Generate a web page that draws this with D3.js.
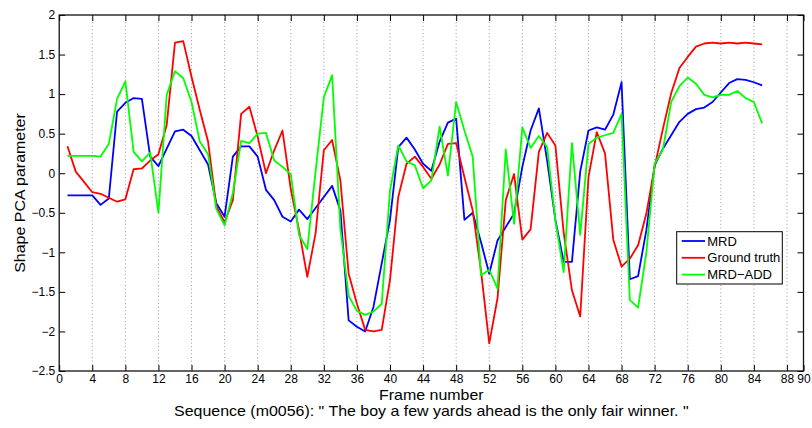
<!DOCTYPE html>
<html>
<head>
<meta charset="utf-8">
<script src="https://cdn.jsdelivr.net/npm/d3@7"></script>
<style>
  body { margin: 0; background: #fff; }
  svg text { font-family: "Liberation Sans", Arial, Helvetica, sans-serif; fill: #000; }
</style>
</head>
<body>
<svg id="chart" width="812" height="428"></svg>
<script>
// frame numbers 1..85
var frames = d3.range(1, 86);

var mrd = [-0.28, -0.28, -0.28, -0.28, -0.40, -0.32, 0.78, 0.89, 0.95, 0.94,
  0.21, 0.09, 0.31, 0.53, 0.55, 0.47, 0.29, 0.11, -0.38, -0.55,
  0.21, 0.34, 0.34, 0.21, -0.21, -0.34, -0.55, -0.61, -0.46, -0.58,
  -0.44, -0.30, -0.16, -0.47, -1.86, -1.94, -2.00, -1.69, -1.14, -0.59,
  0.33, 0.45, 0.30, 0.12, 0.03, 0.40, 0.64, 0.69, -0.59, -0.50,
  -0.87, -1.27, -0.85, -0.68, -0.51, 0.08, 0.54, 0.82, 0.16, -0.59,
  -1.12, -1.12, 0.02, 0.54, 0.58, 0.55, 0.74, 1.15, -1.34, -1.30,
  -0.72, 0.10, 0.31, 0.48, 0.65, 0.75, 0.81, 0.83, 0.90, 1.02,
  1.14, 1.19, 1.18, 1.15, 1.11];

var truth = [0.34, 0.02, -0.11, -0.24, -0.26, -0.31, -0.36, -0.33, 0.05, 0.06,
  0.16, 0.24, 0.61, 1.65, 1.67, 1.22, 0.80, 0.40, -0.42, -0.62,
  -0.34, 0.75, 0.84, 0.46, 0.00, 0.29, 0.54, -0.20, -0.72, -1.31,
  -0.76, 0.29, 0.42, -0.09, -1.27, -1.65, -1.98, -2.00, -1.98, -1.35,
  -0.30, 0.12, 0.21, 0.08, -0.07, 0.11, 0.37, 0.38, -0.05, -0.47,
  -1.23, -2.15, -1.58, -0.34, -0.01, -0.84, -0.71, 0.27, 0.51, 0.35,
  -0.75, -1.48, -1.81, -0.05, 0.52, 0.25, -0.84, -1.18, -1.08, -0.91,
  -0.51, 0.08, 0.56, 1.01, 1.33, 1.47, 1.60, 1.64, 1.65, 1.64,
  1.65, 1.64, 1.65, 1.64, 1.63];

var mrdAdd = [0.22, 0.22, 0.22, 0.22, 0.21, 0.37, 0.94, 1.16, 0.27, 0.15,
  0.26, -0.50, 0.99, 1.29, 1.20, 0.90, 0.40, 0.24, -0.45, -0.66,
  -0.25, 0.41, 0.38, 0.50, 0.51, 0.16, 0.08, -0.01, -0.78, -0.96,
  0.02, 0.96, 1.24, -0.70, -1.55, -1.74, -1.79, -1.75, -1.65, -0.22,
  0.35, 0.15, 0.10, -0.19, -0.09, 0.59, -0.03, 0.90, 0.54, 0.21,
  -1.29, -1.22, -1.46, 0.30, -0.64, 0.58, 0.32, 0.47, 0.33, -0.60,
  -1.25, 0.38, -0.78, 0.37, 0.45, 0.48, 0.51, 0.75, -1.60, -1.70,
  -1.00, 0.12, 0.30, 0.90, 1.10, 1.21, 1.13, 0.99, 0.96, 0.99,
  0.99, 1.04, 0.95, 0.90, 0.63];

var xTicks = [0, 4, 8, 12, 16, 20, 24, 28, 32, 36, 40, 44, 48, 52, 56, 60, 64, 68, 72, 76, 80, 84, 88, 90];
var yTicks = [-2.5, -2, -1.5, -1, -0.5, 0, 0.5, 1, 1.5, 2];

var series = [
  { name: "MRD", values: mrd, color: "#0000ff" },
  { name: "Ground truth", values: truth, color: "#ff0000" },
  { name: "MRD\u2212ADD", values: mrdAdd, color: "#00ff00" }
];

var svg = d3.select("#chart");
var plotL = 59.2, plotR = 803.5, plotT = 15, plotB = 371;

var x = d3.scaleLinear().domain([0, 90]).range([plotL, plotR]);
var y = d3.scaleLinear().domain([-2.5, 2]).range([plotB, plotT]);

// dotted vertical grid
svg.append("g").selectAll("line")
  .data(xTicks.filter(function(t) { return t > 0 && t < 90; }))
  .enter().append("line")
    .attr("x1", function(d) { return x(d); })
    .attr("x2", function(d) { return x(d); })
    .attr("y1", plotT).attr("y2", plotB)
    .attr("stroke", "#999")
    .attr("stroke-width", 1)
    .attr("stroke-dasharray", "1,2.6");

// axes, ticks pointing inward
var fmt = function(d) { return d3.format("")(d).replace("-", "\u2212"); };

svg.append("g")
  .attr("transform", "translate(0," + plotB + ")")
  .call(d3.axisBottom(x).tickValues(xTicks).tickSizeInner(-6).tickSizeOuter(0))
  .call(function(g) {
    g.select(".domain").remove();
    g.selectAll("text").style("font-size", "12px").attr("y", 3);
  });

svg.append("g")
  .attr("transform", "translate(0," + plotT + ")")
  .call(d3.axisTop(x).tickValues(xTicks).tickSizeInner(-6).tickSizeOuter(0).tickFormat(""))
  .call(function(g) { g.select(".domain").remove(); });

svg.append("g")
  .attr("transform", "translate(" + plotL + ",0)")
  .call(d3.axisLeft(y).tickValues(yTicks).tickSizeInner(-6).tickSizeOuter(0).tickFormat(fmt))
  .call(function(g) {
    g.select(".domain").remove();
    g.selectAll("text").style("font-size", "12px").attr("x", -4);
  });

svg.append("g")
  .attr("transform", "translate(" + plotR + ",0)")
  .call(d3.axisRight(y).tickValues(yTicks).tickSizeInner(-6).tickSizeOuter(0).tickFormat(""))
  .call(function(g) { g.select(".domain").remove(); });

svg.selectAll(".tick line").attr("stroke", "#000");

// box
svg.append("rect")
  .attr("x", plotL).attr("y", plotT)
  .attr("width", plotR - plotL).attr("height", plotB - plotT)
  .attr("fill", "none").attr("stroke", "#111").attr("stroke-width", 1.3);

// lines
var line = d3.line()
  .x(function(d, i) { return x(frames[i]); })
  .y(function(d) { return y(d); });

svg.append("g").selectAll("path")
  .data(series)
  .enter().append("path")
    .attr("d", function(s) { return line(s.values); })
    .attr("fill", "none")
    .attr("stroke", function(s) { return s.color; })
    .attr("stroke-width", 1.8)
    .attr("stroke-linejoin", "round");

// axis labels (source figure is stretched sideways a bit)
svg.append("text")
  .attr("transform", "translate(" + (plotL + plotR) / 2 + ",400) scale(1.14,1)")
  .attr("text-anchor", "middle")
  .style("font-size", "14px")
  .text("Frame number");

svg.append("text")
  .attr("transform", "translate(" + (plotL + plotR) / 2 + ",416) scale(1.14,1)")
  .attr("text-anchor", "middle")
  .style("font-size", "14px")
  .text("Sequence (m0056): \" The boy a few yards ahead is the only fair winner. \"");

svg.append("text")
  .attr("transform", "translate(25," + (plotT + plotB) / 2 + ") rotate(-90) scale(1.14,1)")
  .attr("text-anchor", "middle")
  .style("font-size", "14px")
  .text("Shape PCA parameter");

// legend
var lg = svg.append("g");
lg.append("rect")
  .attr("x", 676.7).attr("y", 231.7)
  .attr("width", 105.6).attr("height", 52.3)
  .attr("fill", "#fff").attr("stroke", "#000").attr("stroke-width", 1);

var item = lg.selectAll("g.item")
  .data(series)
  .enter().append("g")
    .attr("class", "item")
    .attr("transform", function(d, i) { return "translate(681.7," + (241 + i * 16.8) + ")"; });

item.append("line")
  .attr("x1", 0).attr("x2", 23.3)
  .attr("stroke", function(d) { return d.color; })
  .attr("stroke-width", 1.8);

item.append("text")
  .attr("x", 25.6).attr("dy", "0.35em")
  .style("font-size", "13px")
  .text(function(d) { return d.name; });
</script>
</body>
</html>
